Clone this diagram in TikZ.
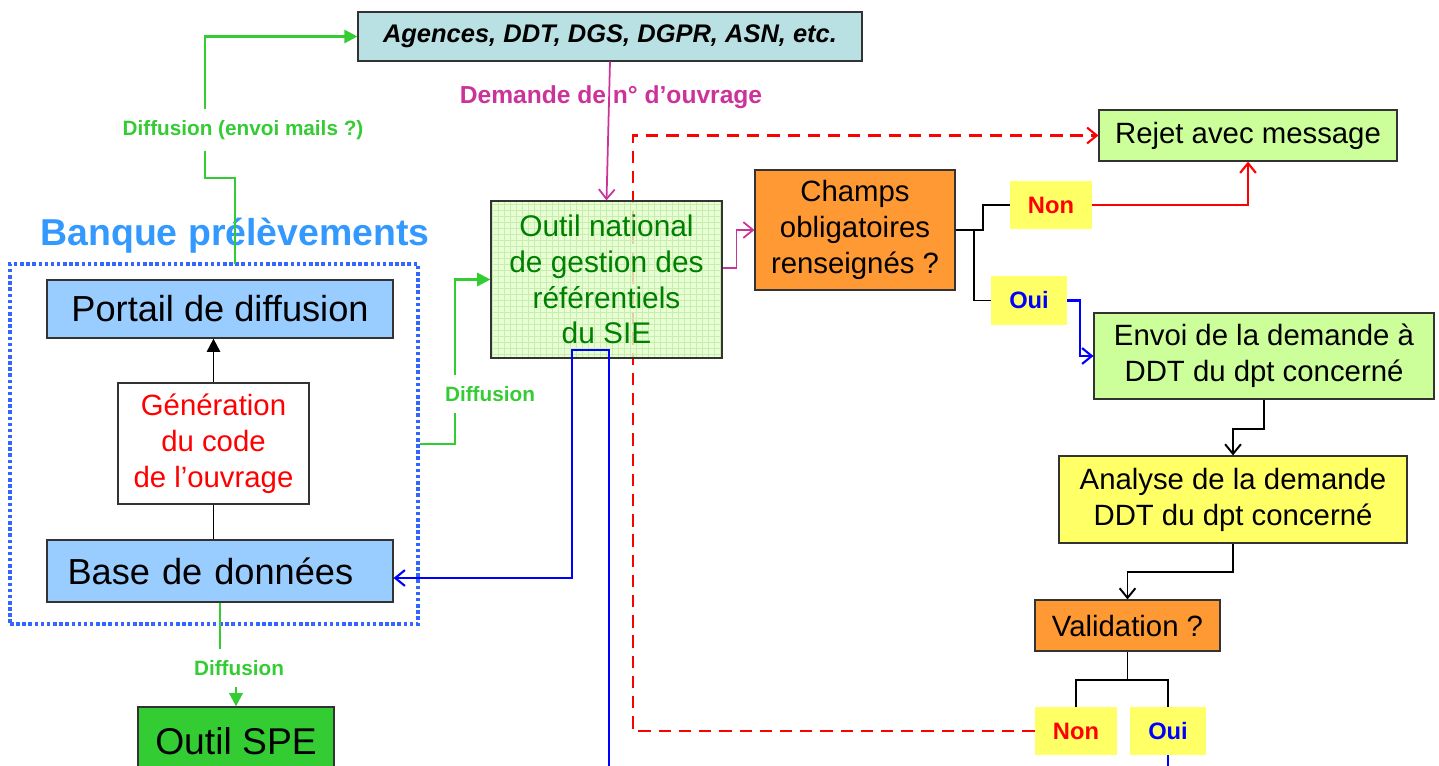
\documentclass[tikz,border=0pt]{standalone}
\usepackage{fontspec}
\setmainfont{Liberation Sans}
\usetikzlibrary{arrows.meta,positioning,backgrounds}

\definecolor{cyanbox}{HTML}{B9E0E2}
\definecolor{siefill}{HTML}{E2FFCC}
\definecolor{siegrid}{HTML}{C8EEAE}
\definecolor{sietext}{HTML}{008000}
\definecolor{limebox}{HTML}{CCFF99}
\definecolor{orangebox}{HTML}{FF9933}
\definecolor{yellowbox}{HTML}{FFFF66}
\definecolor{bluebox}{HTML}{99CCFF}
\definecolor{spegreen}{HTML}{33CC33}
\definecolor{diffgreen}{HTML}{33CC33}
\definecolor{demcol}{HTML}{CC3399}
\definecolor{frameblue}{HTML}{3366FF}
\definecolor{titleblue}{HTML}{3399FF}

\newcommand{\boxfont}{\fontsize{16.7}{20.5}\selectfont}
\newcommand{\bigboxfont}{\fontsize{20.6}{24}\selectfont}
\newcommand{\siefont}{\fontsize{17}{20.4}\selectfont}
\newcommand{\spefont}{\fontsize{21.2}{25}\selectfont}
\newcommand{\lblfont}{\fontsize{11.8}{14}\selectfont\bfseries}
\newcommand{\tagfont}{\fontsize{13.5}{16}\selectfont\bfseries}
\newcommand{\agfont}{\fontsize{14.5}{17}\selectfont\bfseries\itshape}
\newcommand{\demfont}{\fontsize{14}{17}\selectfont\bfseries}
\newcommand{\banquefont}{\fontsize{21.3}{25}\selectfont\bfseries}

\tikzset{
  box/.style={draw=black!80, line width=0.7pt, align=center, inner sep=2pt},
  tag/.style={fill=yellowbox, inner sep=0pt, font=\tagfont},
  lbl/.style={text=diffgreen, font=\lblfont, inner xsep=1pt, inner ysep=6.5pt},
  diff/.style={draw=diffgreen, line width=1.4pt},
  dem/.style={draw=demcol, line width=1pt},
  flow/.style={draw=black, line width=1.1pt},
  redline/.style={draw=red, line width=1.2pt},
  blueline/.style={draw=blue, line width=1.2pt},
  barb/.style={-{Straight Barb[length=5.5pt,width=9pt]}},
  fullhead/.style={-{Triangle[length=7.5pt,width=7.5pt]}},
}

\begin{document}
\begin{tikzpicture}[x=0.02cm, y=-0.02cm]
\path[use as bounding box, clip] (0,0) rectangle (1439,765);

% right hand side : request workflow
\node[box, fill=cyanbox, minimum width=10.08cm, minimum height=0.98cm, font=\agfont] (agences) at (610,36.5) {Agences, DDT, DGS, DGPR, ASN, etc.};
\node[box, minimum width=4.62cm, minimum height=3.14cm, text=sietext, font=\siefont] (sie) at (606.5,279.5) {Outil national\\de gestion des\\référentiels\\du SIE};
\node[box, fill=orangebox, minimum width=4cm, minimum height=2.4cm, font=\boxfont] (champs) at (855,230) {Champs\\obligatoires\\renseignés ?};
\node[box, fill=limebox, minimum width=5.96cm, minimum height=1.02cm, font=\boxfont] (rejet) at (1248,135.5) {Rejet avec message};
\node[tag, minimum width=1.64cm, minimum height=0.96cm, text=red] (non1) at (1051,205) {Non};
\node[tag, minimum width=1.52cm, minimum height=0.98cm, text=blue] (oui1) at (1029,300.5) {Oui};
\node[box, fill=limebox, minimum width=6.8cm, minimum height=1.72cm, font=\boxfont] (envoi) at (1264,356) {Envoi de la demande à\\DDT du dpt concerné};
\node[box, fill=yellowbox, minimum width=6.96cm, minimum height=1.74cm, font=\boxfont] (analyse) at (1233,499.5) {Analyse de la demande\\DDT du dpt concerné};
\node[box, fill=orangebox, minimum width=3.7cm, minimum height=1.02cm, font=\boxfont] (valid) at (1127.5,625.5) {Validation ?};
\node[tag, minimum width=1.64cm, minimum height=0.96cm, text=red] (non2) at (1076,731) {Non};
\node[tag, minimum width=1.52cm, minimum height=0.96cm, text=blue] (oui2) at (1168,731) {Oui};

% left hand side : Banque prelevements
\node[text=titleblue, font=\banquefont] (banque) at (235,236) {Banque prélèvements};
\node[draw=frameblue, line width=2pt, dash pattern=on 2pt off 1.5pt, minimum width=8.16cm, minimum height=7.2cm] (frame) at (214,444) {};
\node[box, fill=bluebox, minimum width=6.92cm, minimum height=1.16cm, font=\bigboxfont] (portail) at (220,309) {Portail de diffusion};
\node[box, fill=white, minimum width=3.82cm, minimum height=2.42cm, text=red, font=\boxfont] (gener) at (213.5,443.5) {Génération\\du code\\de l’ouvrage};
\node[box, fill=bluebox, minimum width=6.92cm, minimum height=1.24cm, text width=6.1cm, align=left, font=\bigboxfont] (base) at (220,571) {Base de données};
\node[box, fill=spegreen, minimum width=3.92cm, minimum height=1.36cm, font=\spefont] (spe) at (236,741) {Outil SPE};

% labels
\node[lbl] (dmail) at (243,130) {Diffusion (envoi mails ?)};
\node[lbl] (dsie) at (490,394) {Diffusion};
\node[lbl] (dspe) at (239,668) {Diffusion};
\node[text=demcol, font=\demfont] (demande) at (611,97) {Demande de n° d’ouvrage};

% diffusion
\coordinate (g1) at (235,264);
\coordinate (g2) at (205,178);
\draw[diff] (g1) |- (g2) -- (g2 |- dmail.south);
\draw[diff, fullhead] (g2 |- dmail.north) |- (agences.west);
\coordinate (m1) at (455,0);
\draw[diff] (frame.east) -| (m1 |- dsie.south);
\draw[diff, fullhead] (m1 |- dsie.north) |- (sie.west);
\draw[diff] (base.south) -- (base.south |- dspe.north);
\draw[diff, fullhead] (spe.north |- dspe.south) -- (spe.north);

\draw[flow, fullhead] (gener.north) -- (gener.north |- portail.south);
\draw[flow] (gener.south) -- (gener.south |- base.north);

% demande
\draw[dem, barb] (agences.south) -- (sie.north);
\draw[dem, barb] ([yshift=0.23cm]sie.east) -- ++(14,0) |- (champs.west);
\draw[flow] (champs.east) -- ++(27,0) |- (non1.west);
\draw[flow] (champs.east) -- ++(18,0) |- (oui1.west);
\draw[redline, barb] (non1.east) -| (rejet.south);
\draw[blueline, barb] (oui1.east) -- ++(13,0) |- (envoi.west);
\draw[flow, barb] (envoi.south) -- ++(0,29) -| (analyse.north);
\draw[flow, barb] (analyse.south) -- ++(0,28) -| (valid.north);
\draw[flow] (valid.south) -- ++(0,28) coordinate (vj) -| (non2.north);
\draw[flow] (vj) -| (oui2.north);
\draw[blueline] (oui2.south) -- ++(0,30);

\coordinate (bin) at (609,790);
\draw[blueline, barb] (bin) -- ++(0,-440) -- ++(-37,0) |- ([yshift=-0.14cm]base.east);

\begin{scope}[on background layer]
\coordinate (rd) at (633,0);
\draw[redline, dash pattern=on 7pt off 4.5pt, barb] (non2.west) -| (rd |- rejet.west) -- (rejet.west);
\fill[siefill, fill opacity=0.8] (sie.south west) rectangle (sie.north east);
\draw[siegrid, line width=0.3pt, step=0.12cm] (sie.south west) grid (sie.north east);
\end{scope}
\end{tikzpicture}
\end{document}
